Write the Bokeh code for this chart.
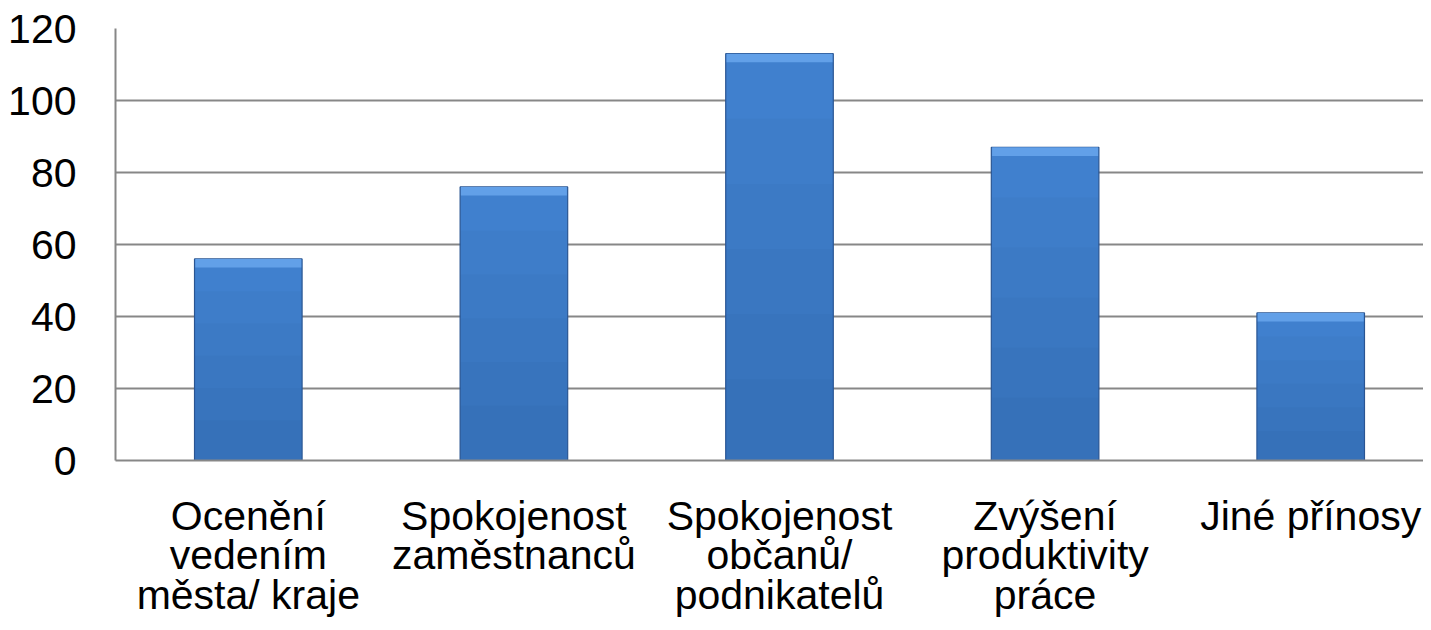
from bokeh.plotting import figure
from bokeh.models import Range1d, FixedTicker, ColumnDataSource
from bokeh.embed import file_html
from bokeh.resources import INLINE

# ---- data ----
categories = [
    "Ocenění\nvedením\nměsta/ kraje",
    "Spokojenost\nzaměstnanců",
    "Spokojenost\nobčanů/\npodnikatelů",
    "Zvýšení\nproduktivity\npráce",
    "Jiné přínosy",
]
values = [56, 76, 113, 87, 41]
y_ticks = [0, 20, 40, 60, 80, 100, 120]

positions = list(range(1, len(categories) + 1))

FONT = "Liberation Sans"
GRID = "#878787"

p = figure(
    frame_width=1308, frame_height=432,
    output_backend="svg", toolbar_location=None,
    x_range=Range1d(0.5, 0.5 + 1308 / 265.6),
    y_range=Range1d(0, 120),
    min_border_left=115, min_border_right=0,
    min_border_top=28, min_border_bottom=160,
)
p.outline_line_color = None
p.background_fill_color = "white"
p.border_fill_color = "white"

# darker bands toward the bottom (styling only, derived from values)
fracs = [0.84, 0.68, 0.52, 0.36, 0.2]
data = dict(x=positions, top=values, bev=[v - 2.4 for v in values])
for i, f in enumerate(fracs):
    data[f"d{i}"] = [v * f for v in values]
src = ColumnDataSource(data)

BW = 0.405
# main bar body
p.vbar(x="x", top="top", bottom=0, width=BW, source=src,
       fill_color="#4080CE", line_color="#2A5592", line_width=1.2)
for i in range(len(fracs)):
    p.vbar(x="x", top=f"d{i}", bottom=0, width=BW - 0.006, source=src,
           fill_color="#23487F", fill_alpha=0.055, line_color=None)
# top bevel
p.vbar(x="x", top="top", bottom="bev", width=BW - 0.006, source=src,
       fill_color="#62A0E8", line_color=None)

# axes
p.yaxis.ticker = FixedTicker(ticks=y_ticks)
p.yaxis.major_tick_line_color = None
p.yaxis.minor_tick_line_color = None
p.yaxis.axis_line_color = GRID
p.yaxis.axis_line_width = 2
p.yaxis.major_label_standoff = 33
p.yaxis.major_label_text_font = FONT
p.yaxis.major_label_text_font_size = "41px"
p.yaxis.major_label_text_color = "black"

p.xaxis.ticker = FixedTicker(ticks=positions)
p.xaxis.major_label_overrides = {pos: lab for pos, lab in zip(positions, categories)}
p.xaxis.major_tick_line_color = None
p.xaxis.minor_tick_line_color = None
p.xaxis.axis_line_color = GRID
p.xaxis.axis_line_width = 2
p.xaxis.major_label_standoff = 26
p.xaxis.major_label_text_font = FONT
p.xaxis.major_label_text_font_size = "41px"
p.xaxis.major_label_text_color = "black"
p.xaxis.major_label_text_line_height = 0.86

p.xgrid.grid_line_color = None
p.ygrid.ticker = FixedTicker(ticks=y_ticks)
p.ygrid.grid_line_color = GRID
p.ygrid.grid_line_width = 2

open("out.html", "w").write(file_html(p, INLINE))
